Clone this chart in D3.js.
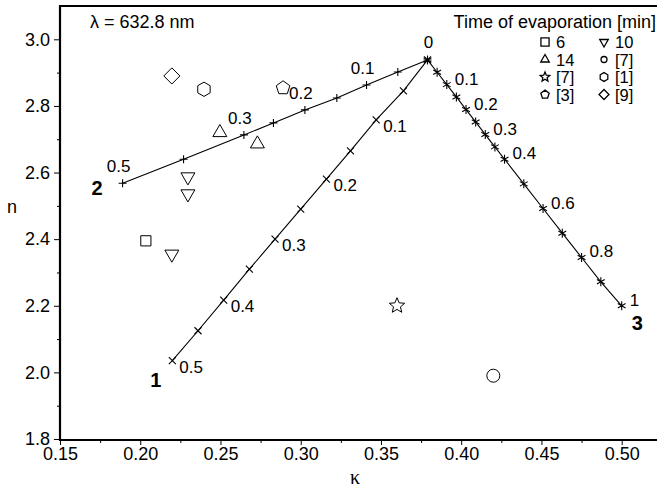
<!DOCTYPE html>
<html>
<head>
<meta charset="utf-8">
<script src="https://cdn.jsdelivr.net/npm/d3@7"></script>
<style>
  body { margin: 0; background: #fff; }
  text { font-family: Arial, "Liberation Sans", sans-serif; fill: #000; }
</style>
</head>
<body>
<div id="chart"></div>
<script>
//////////////////////////////////////////////////////////////
// data

// curve 1 (x marks)
let c1T = [0, 0.05, 0.1, 0.15, 0.2, 0.25, 0.3, 0.35, 0.4, 0.45, 0.5]
let c1K = [0.379, 0.364, 0.347, 0.331, 0.316, 0.300, 0.284, 0.268, 0.252, 0.236, 0.220]
let c1N = [2.938, 2.845, 2.758, 2.665, 2.580, 2.490, 2.400, 2.310, 2.217, 2.125, 2.035]
let c1Labels = ['0.1', '0.2', '0.3', '0.4', '0.5']

// curve 2 (+ marks)
let c2T = [0, 0.05, 0.1, 0.15, 0.2, 0.25, 0.3, 0.4, 0.5]
let c2K = [0.379, 0.3605, 0.341, 0.3225, 0.3026, 0.283, 0.2646, 0.227, 0.189]
let c2N = [2.938, 2.902, 2.863, 2.824, 2.788, 2.749, 2.713, 2.640, 2.568]
let c2Labels = ['0.1', '0.2', '0.3', '0.5']

// curve 3 (* marks)
let c3T = [0, 0.05, 0.1, 0.15, 0.2, 0.25, 0.3, 0.35, 0.4, 0.5, 0.6, 0.7, 0.8, 0.9, 1]
let c3K = [0.379, 0.385, 0.391, 0.397, 0.403, 0.409, 0.415, 0.421, 0.427, 0.439, 0.451, 0.463, 0.475, 0.487, 0.500]
let c3N = [2.938, 2.901, 2.864, 2.827, 2.789, 2.752, 2.714, 2.677, 2.640, 2.566, 2.492, 2.418, 2.345, 2.272, 2.200]
let c3Labels = ['0.1', '0.2', '0.3', '0.4', '0.6', '0.8', '1']

// measured points
let ptShape = ['square', 'down', 'down', 'down', 'up', 'up', 'diamond', 'hexagon', 'pentagon', 'star', 'circle']
let ptK = [0.2035, 0.2297, 0.2297, 0.2197, 0.2496, 0.273, 0.2197, 0.2397, 0.289, 0.360, 0.420]
let ptN = [2.395, 2.587, 2.536, 2.355, 2.720, 2.686, 2.890, 2.850, 2.854, 2.200, 1.990]

// legend
let legShape = ['square', 'down', 'up', 'dot', 'star', 'hexagon', 'pentagon', 'diamond']
let legText = ['6', '10', '14', '[7]', '[7]', '[1]', '[3]', '[9]']

let yTicks = [1.8, 2.0, 2.2, 2.4, 2.6, 2.8, 3.0]
let yMinor = [1.9, 2.1, 2.3, 2.5, 2.7, 2.9]
let xTicks = [0.15, 0.20, 0.25, 0.30, 0.35, 0.40, 0.45, 0.50]
let xMinor = [0.175, 0.225, 0.275, 0.325, 0.375, 0.425, 0.475]

//////////////////////////////////////////////////////////////
// svg + scales

let width = 657
let height = 488
let padLeft = 60
let padTop = 6
let axisY = 440

let svg = d3.select('#chart').append('svg')
  .attr('width', width)
  .attr('height', height)

let x = d3.scaleLinear().domain([0.15, 0.522]).range([padLeft, width])
let y = d3.scaleLinear().domain([1.8, 3.1]).range([439, padTop])

// axes
svg.append('g')
  .attr('transform', 'translate(' + padLeft + ',0)')
  .call(d3.axisLeft(y).tickValues(yTicks).tickSize(6).tickPadding(4).tickFormat(d3.format('.1f')))
svg.append('g')
  .attr('transform', 'translate(' + padLeft + ',0)')
  .call(d3.axisLeft(y).tickValues(yMinor).tickSize(3).tickFormat(''))

svg.append('g')
  .attr('transform', 'translate(0,' + axisY + ')')
  .call(d3.axisBottom(x).tickValues(xTicks).tickSize(5).tickPadding(2).tickFormat(d3.format('.2f')))
svg.append('g')
  .attr('transform', 'translate(0,' + axisY + ')')
  .call(d3.axisBottom(x).tickValues(xMinor).tickSize(3).tickFormat(''))

svg.selectAll('.domain').remove()
svg.selectAll('.tick text').style('font-size', '18px').style('font-family', 'Arial, "Liberation Sans", sans-serif')

// frame (left, top, bottom)
svg.append('path')
  .attr('d', 'M' + width + ',' + padTop + 'H' + padLeft + 'V' + axisY + 'H' + width)
  .attr('fill', 'none')
  .attr('stroke', '#000')
  .attr('stroke-width', 2.2)

//////////////////////////////////////////////////////////////
// marker helpers

function poly (n, r, rot) {
  let pts = d3.range(n).map(i => {
    let a = rot + (i * 2 * Math.PI) / n
    return [r * Math.cos(a), r * Math.sin(a)]
  })
  return 'M' + pts.join('L') + 'Z'
}

function starPath (r) {
  let pts = d3.range(10).map(i => {
    let a = -Math.PI / 2 + (i * Math.PI) / 5
    let rr = i % 2 === 0 ? r : r * 0.45
    return [rr * Math.cos(a), rr * Math.sin(a)]
  })
  return 'M' + pts.join('L') + 'Z'
}

function shapePath (type, s) {
  if (type === 'square') return poly(4, s * 0.72, Math.PI / 4)
  if (type === 'up') return poly(3, s * 0.62, -Math.PI / 2)
  if (type === 'down') return poly(3, s * 0.62, Math.PI / 2)
  if (type === 'diamond') return poly(4, s * 0.62, 0)
  if (type === 'pentagon') return poly(5, s * 0.55, -Math.PI / 2)
  if (type === 'hexagon') return poly(6, s * 0.55, -Math.PI / 2)
  if (type === 'star') return starPath(s * 0.62)
  if (type === 'circle' || type === 'dot') return d3.symbol(d3.symbolCircle, Math.PI * s * s * 0.25)()
}

function markPath (type, r) {
  if (type === 'plus') return 'M' + -r + ',0H' + r + 'M0,' + -r + 'V' + r
  if (type === 'times') return 'M' + -r + ',' + -r + 'L' + r + ',' + r + 'M' + -r + ',' + r + 'L' + r + ',' + -r
  // asterisk
  let p = ''
  ;[90, 30, 150].forEach(function (deg) {
    let a = (deg * Math.PI) / 180
    p += 'M' + -r * Math.cos(a) + ',' + -r * Math.sin(a) + 'L' + r * Math.cos(a) + ',' + r * Math.sin(a)
  })
  return p
}

//////////////////////////////////////////////////////////////
// the three curves

let line = d3.line().x(d => x(d[0])).y(d => y(d[1]))

function drawCurve (K, N, mark, r) {
  let pts = K.map((k, i) => [k, N[i]])
  svg.append('path')
    .attr('d', line(pts))
    .attr('fill', 'none')
    .attr('stroke', '#000')
    .attr('stroke-width', 1.1)
  svg.append('g').selectAll('path')
    .data(pts)
    .enter()
    .append('path')
    .attr('transform', d => 'translate(' + x(d[0]) + ',' + y(d[1]) + ')')
    .attr('d', markPath(mark, r))
    .attr('stroke', '#000')
    .attr('stroke-width', 1.1)
}

drawCurve(c1K, c1N, 'times', 3.5)
drawCurve(c2K, c2N, 'plus', 4)
drawCurve(c3K, c3N, 'asterisk', 4.5)

// parameter labels next to the marks
function labelCurve (T, K, N, labels, dx, dy, anchor) {
  labels.forEach(function (lab) {
    let i = T.indexOf(+lab)
    svg.append('text')
      .attr('x', x(K[i]) + dx)
      .attr('y', y(N[i]) + dy)
      .attr('text-anchor', anchor)
      .style('font-size', '17px')
      .text(lab)
  })
}

labelCurve(c1T, c1K, c1N, c1Labels, 7, 12, 'start')
labelCurve(c2T, c2K, c2N, c2Labels, -4, -11, 'middle')
labelCurve(c3T, c3K, c3N, c3Labels, 8, 0, 'start')

svg.append('text')
  .attr('x', x(c1K[0]) + 1)
  .attr('y', y(c1N[0]) - 12)
  .attr('text-anchor', 'middle')
  .style('font-size', '17px')
  .text('0')

// curve numbers
let numK = [c1K[c1K.length - 1], c2K[c2K.length - 1], c3K[c3K.length - 1]]
let numN = [c1N[c1N.length - 1], c2N[c2N.length - 1], c3N[c3N.length - 1]]
let numDx = [-22, -31, 10]
let numDy = [26, 12, 24]
;['1', '2', '3'].forEach(function (t, i) {
  svg.append('text')
    .attr('x', x(numK[i]) + numDx[i])
    .attr('y', y(numN[i]) + numDy[i])
    .style('font-size', '20px')
    .style('font-weight', 'bold')
    .text(t)
})

//////////////////////////////////////////////////////////////
// measured points

svg.append('g').selectAll('path')
  .data(ptShape)
  .enter()
  .append('path')
  .attr('transform', (d, i) => 'translate(' + x(ptK[i]) + ',' + y(ptN[i]) + ')')
  .attr('d', d => shapePath(d, d === 'square' ? 10 : 13))
  .attr('fill', 'none')
  .attr('stroke', '#000')
  .attr('stroke-width', 1)

//////////////////////////////////////////////////////////////
// texts and legend

svg.append('text')
  .attr('x', 90)
  .attr('y', 28)
  .style('font-size', '18px')
  .text('\u03bb = 632.8 nm')

svg.append('text')
  .attr('x', 656)
  .attr('y', 28)
  .attr('text-anchor', 'end')
  .style('font-size', '18px')
  .text('Time of evaporation [min]')

let leg = svg.append('g').selectAll('g')
  .data(legShape)
  .enter()
  .append('g')
  .attr('transform', (d, i) => 'translate(' + (i % 2 === 0 ? 545 : 604) + ',' + (42 + Math.floor(i / 2) * 17.5) + ')')

leg.append('path')
  .attr('d', d => shapePath(d, d === 'dot' ? 6 : 8))
  .attr('fill', 'none')
  .attr('stroke', '#000')
  .attr('stroke-width', 1.3)

leg.append('text')
  .attr('x', 11)
  .attr('y', 6)
  .style('font-size', '16.5px')
  .text((d, i) => legText[i])

// axis titles
svg.append('text')
  .attr('x', 12)
  .attr('y', 213)
  .attr('text-anchor', 'middle')
  .style('font-size', '18px')
  .text('n')

svg.append('text')
  .attr('x', 355)
  .attr('y', 484)
  .attr('text-anchor', 'middle')
  .style('font-size', '20px')
  .style('font-family', '"Liberation Serif", "DejaVu Serif", serif')
  .text('\u03ba')
</script>
</body>
</html>
